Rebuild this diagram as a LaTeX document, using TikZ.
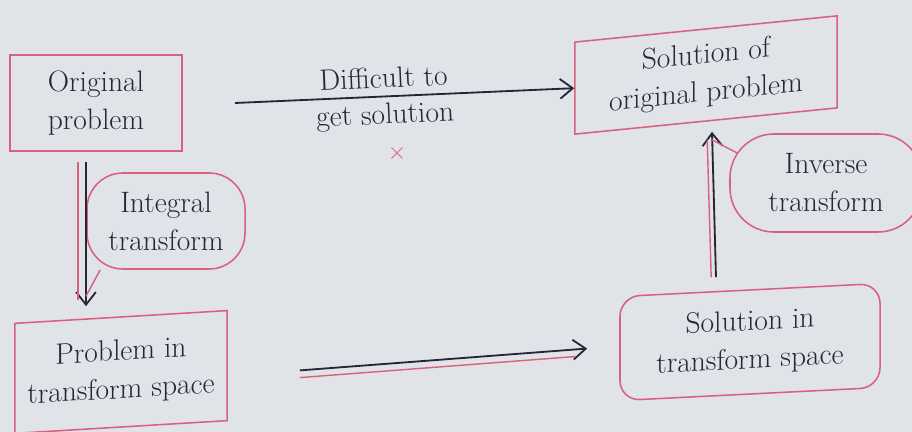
\documentclass[tikz,border=0pt]{standalone}
\usepackage{fontspec}
\usepackage{tikz}
\usetikzlibrary{arrows.meta}

\definecolor{paper}{RGB}{224,227,231}
\definecolor{ink}{RGB}{38,38,58}
\definecolor{redink}{RGB}{218,96,128}

\begin{document}
\begin{tikzpicture}[x=0.025cm, y=-0.025cm,
  >={Straight Barb[length=9pt,width=14pt]},
  every node/.style={text=ink, font=\fontsize{21}{27}\selectfont, align=center},
  box/.style={draw=redink, line width=1.1pt, inner sep=0pt},
  bubble/.style={box, rounded corners=0.9cm},
  inkline/.style={draw=ink, line width=1.3pt},
  redline/.style={draw=redink, line width=1pt}]
  \fill[paper] (0,0) rectangle (912,432);
  \useasboundingbox (0,0) rectangle (912,432);

  \node[box, minimum width=4.3cm, minimum height=2.4cm] (orig) at (96,103) {Original\\problem};
  \node[box, yslant=0.1, minimum width=6.55cm, minimum height=2.3cm] (solorig) at (706,75) {Solution of\\original problem};
  \node[box, yslant=0.06, minimum width=5.3cm, minimum height=2.75cm] (pts) at (121,372) {Problem in\\transform space};
  \node[box, rounded corners=0.5cm, yslant=0.05, minimum width=6.5cm, minimum height=2.6cm] (solts) at (750,342) {Solution in\\transform space};
  \node[bubble, minimum width=3.95cm, minimum height=2.4cm] (integ) at (166,221) {Integral\\transform};
  \node[bubble, rounded corners=1.1cm, minimum width=4.8cm, minimum height=2.45cm] (inv) at (826,183) {Inverse\\transform};

  \coordinate (hardstart) at (235,103);
  \draw[inkline, ->] (hardstart) -- (solorig.west)
    node[pos=0.44, above=2pt, sloped] (difa) {Difficult to}
    node[pos=0.44, below=1pt, sloped] (difb) {get solution};
  \node[text=redink, font=\fontsize{16}{16}\selectfont, inner sep=1pt] (cross) at (397,153) {$\times$};

  \coordinate (intop) at ([xshift=-0.25cm, yshift=-0.25cm]orig.south);
  \coordinate (inbot) at (intop |- pts.north);
  \draw[inkline, ->, shorten >=0.25cm] (intop) -- (inbot);
  \draw[redline] ([xshift=-0.2cm]intop) -- ([xshift=-0.2cm, yshift=0.4cm]inbot);
  \draw[redline] ([xshift=0.35cm]integ.south west) -- ([yshift=0.5cm]inbot);

  \coordinate (invbot) at ([xshift=-0.85cm, yshift=0.3cm]solts.north);
  \coordinate (invtop) at ([xshift=0.15cm, yshift=-0.25cm]solorig.south);
  \draw[inkline, ->] (invbot) -- (invtop);
  \draw[redline] ([xshift=-0.12cm]invbot) -- ([xshift=-0.12cm, yshift=-0.2cm]invtop);
  \draw[redline] ([xshift=0.2cm, yshift=0.75cm]inv.west) -- ([yshift=-0.2cm]invtop);

  \coordinate (tsstart) at ([xshift=1.8cm, yshift=-0.12cm]pts.east);
  \coordinate (tsend) at ([xshift=-0.8cm]solts.west);
  \draw[inkline, ->] (tsstart) -- (tsend);
  \draw[redline] ([yshift=-0.18cm]tsstart) -- ([xshift=-0.3cm, yshift=-0.2cm]tsend);
\end{tikzpicture}
\end{document}
